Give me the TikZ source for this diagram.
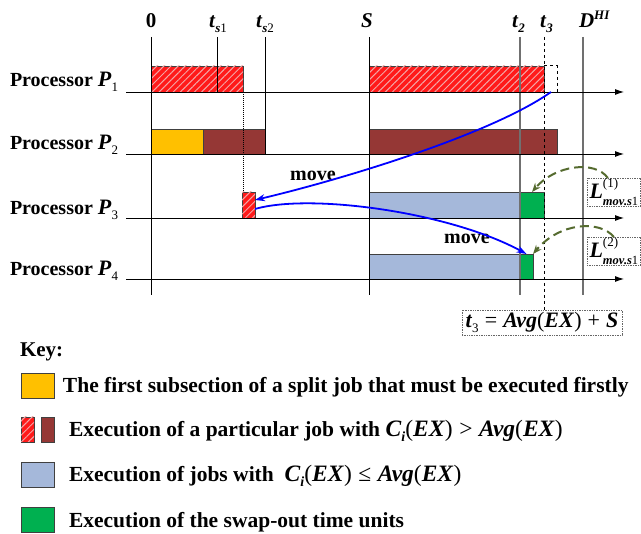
\documentclass[tikz,border=0pt]{standalone}
\usepackage{fontspec}
\setmainfont{Liberation Serif}
\usetikzlibrary{arrows.meta,patterns.meta}
\definecolor{hred}{HTML}{FF1A1A}
\definecolor{hatchc}{HTML}{F4A6A6}
\definecolor{brn}{HTML}{953735}
\definecolor{yel}{HTML}{FFC000}
\definecolor{lblue}{HTML}{A5B8DA}
\definecolor{grn}{HTML}{00B050}
\definecolor{olivec}{HTML}{556B2F}
\definecolor{vgray}{HTML}{707070}
\newcommand\fs[1]{\fontsize{#1}{#1}\selectfont}
\newcommand\bi[1]{\textbf{\textit{#1}}}
\newcommand\sbx[2][13]{\raisebox{-5pt}{\fs{#1}#2}}
\newcommand\mathpart[1]{{\fs{23.5}#1}}
\begin{document}
\begin{tikzpicture}[x=1pt,y=-1pt,
  every node/.style={inner sep=0pt, outer sep=0pt, font=\fs{20}\bfseries},
  bar/.style={draw=black!75, line width=0.8pt},
  hatchbar/.style={bar, fill=hred, postaction={pattern={Lines[angle=45,distance=5pt,line width=1pt]}, pattern color=hatchc}},
  axis/.style={line width=0.9pt, -{Latex[length=9pt,width=6pt]}},
  vline/.style={line width=0.9pt},
  gline/.style={vgray, line width=1.3pt},
  movearr/.style={blue, line width=1.8pt, -{Stealth[length=10pt,width=7pt]}},
  larr/.style={olivec, line width=2pt, dash pattern=on 9pt off 5pt, -{Stealth[length=9pt,width=7pt]}},
  dotbox/.style={draw=black!60, densely dotted, line width=0.7pt}]
\useasboundingbox (0,0) rectangle (641,534);
\fill[white] (0,0) rectangle (641,534);

% bars
\path[hatchbar] (151,66) rectangle (243,92);
\path[hatchbar] (369,66) rectangle (544,92);
\draw[dashed, line width=1pt] (544,66) -- (557,66) -- (557,92);
\path[bar, fill=yel] (151,129) rectangle (203,154);
\path[bar, fill=brn] (203,129) rectangle (265,154);
\path[bar, fill=brn] (369,129) rectangle (557,154);
\node[hatchbar, anchor=north west, minimum width=13pt, minimum height=26pt] (r3) at (242,192) {};
\path[bar, fill=lblue] (369,192) rectangle (520,218);
\node[bar, fill=grn, anchor=north west, minimum width=24pt, minimum height=26pt] (g3) at (520,192) {};
\path[bar, fill=lblue] (369,254) rectangle (520,279);
\node[bar, fill=grn, anchor=north west, minimum width=13pt, minimum height=25pt] (g4) at (520,254) {};

% vertical lines
\draw[vline] (151,37) -- (151,295);
\draw[vline] (217,37) -- (217,92);
\draw[vline] (265,37) -- (265,154);
\draw[vline] (369,37) -- (369,295);
\draw[gline] (520,37) -- (520,295);
\draw[gline] (583,37) -- (583,295);
\draw[dashed, line width=0.9pt] (544,37) -- (544,310);
\draw[densely dotted, line width=1pt] (243,92) -- (243,192);

% axes
\foreach \yy in {92,154,218,279} \draw[axis] (126,\yy) -- (624,\yy);

% top labels
\node[anchor=base] (l0) at (151,28) {\fs{21}0};
\node[anchor=base west] (lts1) at (209,28) {\fs{21}\bi{t}\sbx{\bi{s}\textmd{1}}};
\node[anchor=base west] (lts2) at (256,28) {\fs{21}\bi{t}\sbx{\bi{s}\textmd{2}}};
\node[anchor=base] (lS) at (367,28) {\fs{21}\bi{S}};
\node[anchor=base west] (lt2) at (512,28) {\fs{21}\bi{t}\sbx{\bi{2}}};
\node[anchor=base west] (lt3) at (540,28) {\fs{21}\bi{t}\sbx{\bi{3}}};
\node[anchor=base west] (lD) at (579,28) {\fs{21}\bi{D}\raisebox{8pt}{\fs{13}\bi{HI}}};

% processor labels
\node[anchor=base west] (pl1) at (10,87) {Processor \bi{\fs{22}P}\sbx{\textmd{1}}};
\node[anchor=base west] (pl2) at (10,150) {Processor \bi{\fs{22}P}\sbx{\textmd{2}}};
\node[anchor=base west] (pl3) at (10,215) {Processor \bi{\fs{22}P}\sbx{\textmd{3}}};
\node[anchor=base west] (pl4) at (10,276) {Processor \bi{\fs{22}P}\sbx{\textmd{4}}};

% boxes
\node[dotbox, minimum width=160pt, minimum height=25pt] (t3box) at (542,322.5)
  {\fs{22}\bi{t}\sbx{\textmd{3}}\;\textmd{=}\;\bi{Avg}\textmd{(}\bi{EX}\textmd{)}\;\textmd{+}\;\bi{S}};
\node[dotbox, anchor=north west, inner xsep=2.5pt, inner ysep=0.5pt] (L1) at (587,178)
  {\fs{22}\bi{L}\rlap{\raisebox{11pt}{\fs{13}\textmd{(1)}}}\raisebox{-7pt}{\fs{12.5}\bi{mov.s}\textmd{1}}};
\node[dotbox, anchor=north west, inner xsep=2.5pt, inner ysep=0.5pt] (L2) at (587,237)
  {\fs{22}\bi{L}\rlap{\raisebox{11pt}{\fs{13}\textmd{(2)}}}\raisebox{-7pt}{\fs{12.5}\bi{mov.s}\textmd{1}}};

% move labels
\node (mv1) at (313,176) {move};
\node (mv2) at (467,239) {move};

% arrows
\coordinate (a1) at (551,92);
\draw[movearr] (a1) .. controls (490,135) and (340,180) .. ([yshift=5pt]r3.east);
\draw[movearr] ([yshift=-4pt]r3.east) .. controls (310,193) and (450,212) .. (g4.north);
\draw[larr] ([xshift=-6pt]L1.north) .. controls (595,160) and (555,165) .. (g3.north);
\draw[larr] (L2.north) .. controls (600,220) and (560,222) .. (g4.north east);

% legend
\node[anchor=base west] (key) at (20,357) {\fs{21}Key:};
\path[bar, fill=yel] (21,373) rectangle (54,398);
\path[hatchbar] (21,417) rectangle (34,442);
\path[bar, fill=brn] (41,417) rectangle (54,442);
\path[bar, fill=lblue] (21,462) rectangle (54,487);
\path[bar, fill=grn] (21,507) rectangle (54,532);
\node[anchor=base west] (k1) at (63,393) {\fs{21.5}The first subsection of a split job that must be executed firstly};
\node[anchor=base west] (k2) at (69,437) {\fs{21.5}Execution of a particular job with \mathpart{\bi{C}\sbx[14]{\bi{i}}\textmd{(}\bi{EX}\textmd{)}\;\textmd{>}\;\bi{Avg}\textmd{(}\bi{EX}\textmd{)}}};
\node[anchor=base west] (k3) at (69,482) {\fs{21.5}Execution of jobs with\ \ \mathpart{\bi{C}\sbx[14]{\bi{i}}\textmd{(}\bi{EX}\textmd{)}\;\textmd{≤}\;\bi{Avg}\textmd{(}\bi{EX}\textmd{)}}};
\node[anchor=base west] (k4) at (69,528) {\fs{21.5}Execution of the swap-out time units};
\end{tikzpicture}
\end{document}
